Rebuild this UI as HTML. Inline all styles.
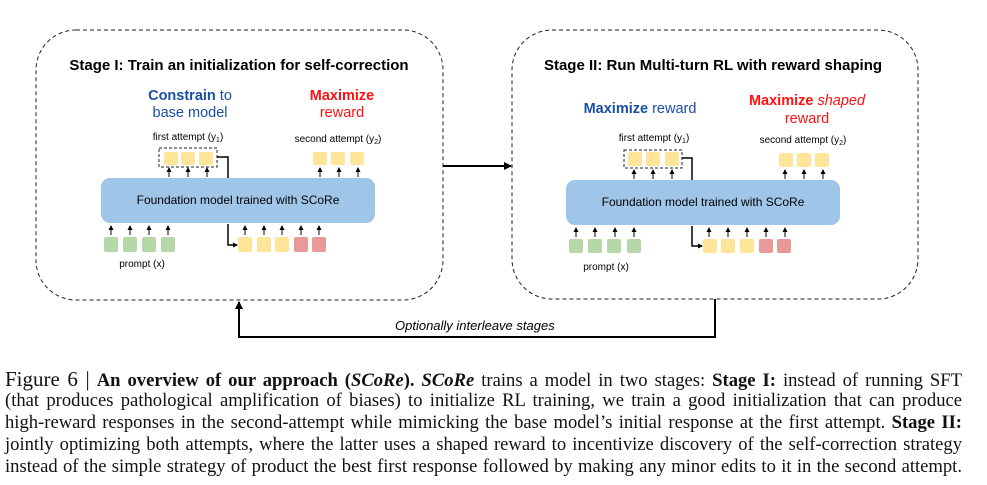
<!DOCTYPE html>
<html><head><meta charset="utf-8"><style>
body{margin:0;background:#fff;width:987px;height:485px;overflow:hidden;position:relative}
svg{position:absolute;left:0;top:0}
.cap{position:absolute;left:5px;width:957px;font-family:"Liberation Serif",serif;font-size:18.6px;color:#111;text-align:justify;text-align-last:justify;white-space:nowrap;line-height:22px}
</style></head><body>
<svg width="987" height="360" viewBox="0 0 987 360" font-family="Liberation Sans, sans-serif">
<defs><marker id="ah" markerWidth="8" markerHeight="8" refX="7" refY="4" orient="auto" markerUnits="userSpaceOnUse"><path d="M0,0 L8,4 L0,8z" fill="#000"/></marker>
<marker id="sa" markerWidth="5" markerHeight="5" refX="4" refY="2.5" orient="auto" markerUnits="userSpaceOnUse"><path d="M0,0 L5,2.5 L0,5z" fill="#000"/></marker></defs>
<rect x="36" y="30" width="407" height="270" rx="40" fill="none" stroke="#222" stroke-dasharray="4,3"/>
<rect x="512" y="30" width="406" height="269" rx="40" fill="none" stroke="#222" stroke-dasharray="4,3"/>
<line x1="443" y1="166" x2="511" y2="166" stroke="#000" stroke-width="2" marker-end="url(#ah)"/>
<polyline points="715,299 715,337 239,337 239,302" fill="none" stroke="#000" stroke-width="2" marker-end="url(#ah)"/>
<text x="395" y="330" font-size="13" font-style="italic">Optionally interleave stages</text>

<!-- Stage I -->
<text x="239" y="70" font-size="15" font-weight="bold" text-anchor="middle">Stage I: Train an initialization for self-correction</text>
<text x="190" y="100" font-size="14.5" text-anchor="middle" fill="#1a4fa6"><tspan font-weight="bold">Constrain</tspan> to</text>
<text x="190" y="117" font-size="14.5" text-anchor="middle" fill="#1a4fa6">base model</text>
<text x="342" y="100" font-size="14.5" text-anchor="middle" fill="#f11" font-weight="bold">Maximize</text>
<text x="342" y="117" font-size="14.5" text-anchor="middle" fill="#f11">reward</text>
<text x="188" y="140" font-size="10" text-anchor="middle">first attempt (y<tspan font-size="7" dy="2">1</tspan><tspan dy="-2">)</tspan></text>
<text x="338" y="142" font-size="10" text-anchor="middle">second attempt (y<tspan font-size="7" dy="2">2</tspan><tspan dy="-2">)</tspan></text>
<rect x="159" y="148" width="58" height="19" fill="none" stroke="#222" stroke-dasharray="3,2"/>
<g fill="#ffe599"><rect x="164" y="152" width="14" height="13" rx="2"/><rect x="181" y="152" width="14" height="13" rx="2"/><rect x="199" y="152" width="14" height="13" rx="2"/>
<rect x="313" y="152" width="14" height="13" rx="2"/><rect x="331" y="152" width="14" height="13" rx="2"/><rect x="350" y="152" width="14" height="13" rx="2"/>
<rect x="238" y="237" width="14" height="15" rx="2"/><rect x="257" y="237" width="14" height="15" rx="2"/><rect x="275" y="237" width="14" height="15" rx="2"/></g>
<g fill="#ea9999"><rect x="294" y="237" width="14" height="15" rx="2"/><rect x="312" y="237" width="14" height="15" rx="2"/></g>
<g fill="#b6d7a8"><rect x="104" y="237" width="14" height="15" rx="2"/><rect x="123" y="237" width="14" height="15" rx="2"/><rect x="142" y="237" width="14" height="15" rx="2"/><rect x="161" y="237" width="14" height="15" rx="2"/></g>
<rect x="101" y="178" width="274" height="45" rx="9" fill="#9fc5e8"/>
<text x="238" y="204" font-size="12" text-anchor="middle">Foundation model trained with SCoRe</text>
<text x="142" y="267" font-size="10" text-anchor="middle">prompt (x)</text>
<polyline points="217,157 228,157 228,178" fill="none" stroke="#000" stroke-width="1.5"/>
<polyline points="228,224 228,245 237,245" fill="none" stroke="#000" stroke-width="1.5" marker-end="url(#sa)"/>
<g stroke="#000" stroke-width="1" marker-end="url(#sa)">
<line x1="169" y1="177" x2="169" y2="168"/><line x1="188" y1="177" x2="188" y2="168"/><line x1="207" y1="177" x2="207" y2="168"/>
<line x1="320" y1="177" x2="320" y2="168"/><line x1="339" y1="177" x2="339" y2="168"/><line x1="358" y1="177" x2="358" y2="168"/>
<line x1="111" y1="235" x2="111" y2="226"/><line x1="130" y1="235" x2="130" y2="226"/><line x1="149" y1="235" x2="149" y2="226"/><line x1="168" y1="235" x2="168" y2="226"/>
<line x1="245" y1="235" x2="245" y2="226"/><line x1="264" y1="235" x2="264" y2="226"/><line x1="282" y1="235" x2="282" y2="226"/><line x1="301" y1="235" x2="301" y2="226"/><line x1="319" y1="235" x2="319" y2="226"/>
</g>

<!-- Stage II -->
<text x="713" y="70" font-size="15" font-weight="bold" text-anchor="middle">Stage II: Run Multi-turn RL with reward shaping</text>
<text x="640" y="113" font-size="14.5" text-anchor="middle" fill="#1a4fa6"><tspan font-weight="bold">Maximize</tspan> reward</text>
<text x="807" y="105" font-size="14.5" text-anchor="middle" fill="#f11"><tspan font-weight="bold">Maximize</tspan> <tspan font-style="italic">shaped</tspan></text>
<text x="807" y="123" font-size="14.5" text-anchor="middle" fill="#f11">reward</text>
<text x="654" y="141" font-size="10" text-anchor="middle">first attempt (y<tspan font-size="7" dy="2">1</tspan><tspan dy="-2">)</tspan></text>
<text x="803" y="143" font-size="10" text-anchor="middle">second attempt (y<tspan font-size="7" dy="2">2</tspan><tspan dy="-2">)</tspan></text>
<rect x="624" y="150" width="58" height="18" fill="none" stroke="#222" stroke-dasharray="3,2"/>
<g fill="#ffe599"><rect x="628" y="152" width="14" height="14" rx="2"/><rect x="646" y="152" width="14" height="14" rx="2"/><rect x="665" y="152" width="14" height="14" rx="2"/>
<rect x="779" y="153" width="14" height="14" rx="2"/><rect x="797" y="153" width="14" height="14" rx="2"/><rect x="815" y="153" width="14" height="14" rx="2"/>
<rect x="703" y="239" width="14" height="14" rx="2"/><rect x="721" y="239" width="14" height="14" rx="2"/><rect x="740" y="239" width="14" height="14" rx="2"/></g>
<g fill="#ea9999"><rect x="759" y="239" width="14" height="14" rx="2"/><rect x="777" y="239" width="14" height="14" rx="2"/></g>
<g fill="#b6d7a8"><rect x="569" y="239" width="14" height="14" rx="2"/><rect x="588" y="239" width="14" height="14" rx="2"/><rect x="607" y="239" width="14" height="14" rx="2"/><rect x="627" y="239" width="14" height="14" rx="2"/></g>
<rect x="566" y="180" width="274" height="45" rx="9" fill="#9fc5e8"/>
<text x="703" y="206" font-size="12" text-anchor="middle">Foundation model trained with SCoRe</text>
<text x="606" y="270" font-size="10" text-anchor="middle">prompt (x)</text>
<polyline points="682,158 692,158 692,180" fill="none" stroke="#000" stroke-width="1.5"/>
<polyline points="692,226 692,246 702,246" fill="none" stroke="#000" stroke-width="1.5" marker-end="url(#sa)"/>
<g stroke="#000" stroke-width="1" marker-end="url(#sa)">
<line x1="634" y1="179" x2="634" y2="170"/><line x1="653" y1="179" x2="653" y2="170"/><line x1="672" y1="179" x2="672" y2="170"/>
<line x1="785" y1="179" x2="785" y2="170"/><line x1="804" y1="179" x2="804" y2="170"/><line x1="823" y1="179" x2="823" y2="170"/>
<line x1="576" y1="237" x2="576" y2="228"/><line x1="595" y1="237" x2="595" y2="228"/><line x1="615" y1="237" x2="615" y2="228"/><line x1="634" y1="237" x2="634" y2="228"/>
<line x1="709" y1="237" x2="709" y2="228"/><line x1="728" y1="237" x2="728" y2="228"/><line x1="747" y1="237" x2="747" y2="228"/><line x1="766" y1="237" x2="766" y2="228"/><line x1="785" y1="237" x2="785" y2="228"/>
</g>
</svg>
<div class="cap" style="top:368px"><span style="font-size:21px">Figure 6 |</span> <b>An overview of our approach (<i>SCoRe</i>).</b> <b><i>SCoRe</i></b> trains a model in two stages: <b>Stage I:</b> instead of running SFT</div>
<div class="cap" style="top:390px">(that produces pathological amplification of biases) to initialize RL training, we train a good initialization that can produce</div>
<div class="cap" style="top:412px">high-reward responses in the second-attempt while mimicking the base model’s initial response at the first attempt. <b>Stage II:</b></div>
<div class="cap" style="top:434px">jointly optimizing both attempts, where the latter uses a shaped reward to incentivize discovery of the self-correction strategy</div>
<div class="cap" style="top:456px">instead of the simple strategy of product the best first response followed by making any minor edits to it in the second attempt.</div>
</body></html>
